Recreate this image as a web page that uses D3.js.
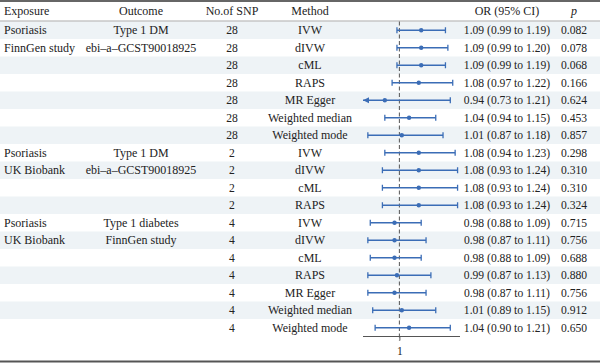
<!DOCTYPE html>
<html>
<head>
<meta charset="utf-8">
<script src="https://cdn.jsdelivr.net/npm/d3@7"></script>
<style>
  body { margin: 0; background: #fff; }
  svg text { font-family: "Liberation Serif", "Times New Roman", serif; font-size: 12px; fill: #222; }
  svg text.num { font-size: 11.6px; }
</style>
</head>
<body>
<svg id="chart"></svg>
<script>
// forest plot table, 600x363
const width = 600, height = 363;

// table data, one entry per row
const exposure = ["Psoriasis", "FinnGen study", "", "", "", "", "",
                  "Psoriasis", "UK Biobank", "", "",
                  "Psoriasis", "UK Biobank", "", "", "", "", ""];
const outcome = ["Type 1 DM", "ebi\u2013a\u2013GCST90018925", "", "", "", "", "",
                 "Type 1 DM", "ebi\u2013a\u2013GCST90018925", "", "",
                 "Type 1 diabetes", "FinnGen study", "", "", "", "", ""];
const snp = [28, 28, 28, 28, 28, 28, 28, 2, 2, 2, 2, 4, 4, 4, 4, 4, 4, 4];
const method = ["IVW", "dIVW", "cML", "RAPS", "MR Egger", "Weighted median", "Weighted mode",
                "IVW", "dIVW", "cML", "RAPS",
                "IVW", "dIVW", "cML", "RAPS", "MR Egger", "Weighted median", "Weighted mode"];
const orVal = [1.09, 1.09, 1.09, 1.08, 0.94, 1.04, 1.01, 1.08, 1.08, 1.08, 1.08, 0.98, 0.98, 0.98, 0.99, 0.98, 1.01, 1.04];
const ciLow = [0.99, 0.99, 0.99, 0.97, 0.73, 0.94, 0.87, 0.94, 0.93, 0.93, 0.93, 0.88, 0.87, 0.88, 0.87, 0.87, 0.89, 0.90];
const ciHigh = [1.19, 1.20, 1.19, 1.22, 1.21, 1.15, 1.18, 1.23, 1.24, 1.24, 1.24, 1.09, 1.11, 1.09, 1.13, 1.11, 1.15, 1.21];
const pVal = ["0.082", "0.078", "0.068", "0.166", "0.624", "0.453", "0.857", "0.298", "0.310", "0.310", "0.324",
              "0.715", "0.756", "0.688", "0.880", "0.756", "0.912", "0.650"];
const headers = ["Exposure", "Outcome", "No.of SNP", "Method", "OR (95% CI)", "p"];
const xTicks = [1];

const rowH = 17.5;
const top0 = 21.5; // top of first data row
const blue = "#3b6db6";

const svg = d3.select("#chart")
    .attr("width", width)
    .attr("height", height);

const n = method.length;
const y = d3.scaleLinear().domain([0, n]).range([top0, top0 + n * rowH]);
const x = d3.scaleLinear().domain([0.85, 1.25]).range([363, 460]);

// zebra stripes
svg.selectAll("rect.stripe")
    .data(d3.range(n).filter(i => i % 2 === 0))
    .enter().append("rect")
    .attr("class", "stripe")
    .attr("x", 0)
    .attr("y", i => y(i))
    .attr("width", width)
    .attr("height", rowH)
    .attr("fill", "#eef3f6");

// table borders
svg.append("line").attr("x1", 0).attr("x2", width).attr("y1", 1).attr("y2", 1)
    .attr("stroke", "#666").attr("stroke-width", 2);
svg.append("line").attr("x1", 0).attr("x2", width).attr("y1", top0 - 0.5).attr("y2", top0 - 0.5)
    .attr("stroke", "#aaa").attr("stroke-width", 1);
svg.append("line").attr("x1", 0).attr("x2", width).attr("y1", height - 1.5).attr("y2", height - 1.5)
    .attr("stroke", "#555").attr("stroke-width", 2);

// column positions and anchors
const cols = [
    { x: 4, anchor: "start", cls: "" },
    { x: 141, anchor: "middle", cls: "" },
    { x: 232, anchor: "middle", cls: "num" },
    { x: 310, anchor: "middle", cls: "" },
    { x: 507, anchor: "middle", cls: "num" },
    { x: 574, anchor: "middle", cls: "num" }
];

// header
svg.selectAll("text.head")
    .data(headers)
    .enter().append("text")
    .attr("class", "head")
    .attr("x", (d, i) => cols[i].x)
    .attr("y", 11)
    .attr("dy", "0.35em")
    .attr("text-anchor", (d, i) => cols[i].anchor)
    .style("font-style", d => d === "p" ? "italic" : null)
    .text(d => d);

// body text
const rowText = d3.range(n).map(i => [
    exposure[i], outcome[i], snp[i], method[i],
    `${orVal[i].toFixed(2)} (${ciLow[i].toFixed(2)} to ${ciHigh[i].toFixed(2)})`,
    pVal[i]
]);

const rows = svg.selectAll("g.row")
    .data(rowText)
    .enter().append("g")
    .attr("class", "row")
    .attr("transform", (d, i) => `translate(0,${y(i) + rowH / 2})`);

rows.selectAll("text")
    .data(d => d)
    .enter().append("text")
    .attr("class", (d, i) => cols[i].cls)
    .attr("x", (d, i) => cols[i].x)
    .attr("dy", "0.35em")
    .attr("text-anchor", (d, i) => cols[i].anchor)
    .text(d => d);

// reference line at OR = 1
svg.append("line")
    .attr("x1", x(1)).attr("x2", x(1))
    .attr("y1", top0).attr("y2", y(n) + 4)
    .attr("stroke", "#555")
    .attr("stroke-width", 1)
    .attr("stroke-dasharray", "4,2.5");

// x axis
const axis = svg.append("g")
    .attr("transform", `translate(0,${y(n)})`)
    .call(d3.axisBottom(x).tickValues(xTicks).tickFormat(d3.format("d")).tickSize(4).tickPadding(6));
axis.select(".domain").attr("stroke", "#555").attr("d", `M${x.range()[0]},0H${x.range()[1]}`);
axis.selectAll(".tick line").attr("stroke", "#555");
axis.selectAll(".tick text")
    .style("font-family", "'Liberation Serif', serif")
    .style("font-size", "11.6px")
    .attr("fill", "#222");

// confidence intervals
const [dMin, dMax] = x.domain();
const ci = svg.selectAll("g.ci")
    .data(d3.range(n))
    .enter().append("g")
    .attr("class", "ci")
    .attr("transform", i => `translate(0,${y(i) + rowH / 2})`);

ci.append("line")
    .attr("x1", i => x(Math.max(ciLow[i], dMin)))
    .attr("x2", i => x(Math.min(ciHigh[i], dMax)))
    .attr("stroke", blue)
    .attr("stroke-width", 1.5);

// caps, or an arrow where the interval runs past the axis
ci.each(function (i) {
    const g = d3.select(this);
    [ciLow[i], ciHigh[i]].forEach((v, k) => {
        if (v < dMin || v > dMax) {
            const xe = x(v < dMin ? dMin : dMax);
            const dir = v < dMin ? 1 : -1;
            g.append("path")
                .attr("d", `M${xe},0L${xe + dir * 6},-3L${xe + dir * 6},3Z`)
                .attr("fill", blue);
        } else {
            g.append("line")
                .attr("x1", x(v)).attr("x2", x(v))
                .attr("y1", -3).attr("y2", 3)
                .attr("stroke", blue)
                .attr("stroke-width", 1.3);
        }
    });
});

ci.append("circle")
    .attr("cx", i => x(orVal[i]))
    .attr("r", 2.2)
    .attr("fill", blue);
</script>
</body>
</html>
